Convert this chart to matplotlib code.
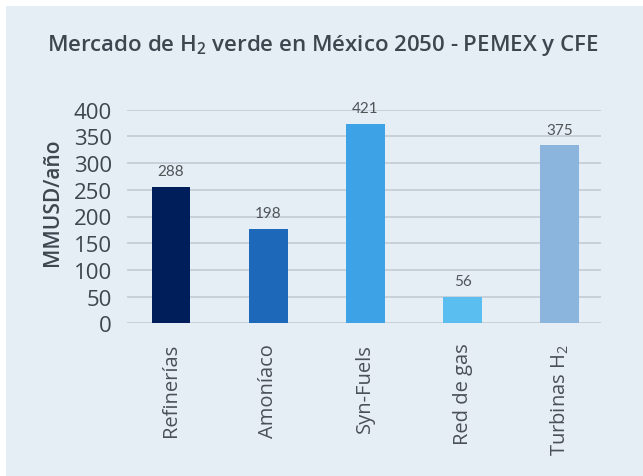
import matplotlib
matplotlib.use("Agg")
import matplotlib.pyplot as plt
from matplotlib.patches import Rectangle

plt.rcParams['font.family'] = ['Open Sans', 'DejaVu Sans']
plt.rcParams['mathtext.fontset'] = 'custom'
plt.rcParams['mathtext.rm'] = 'Open Sans'
plt.rcParams['mathtext.default'] = 'regular'

# data
categories = ['Refinerías', 'Amoníaco', 'Syn-Fuels', 'Red de gas', 'Turbinas H$_2$']
bar_values = [256, 176, 373, 49, 333]          # drawn bar heights
value_labels = ['288', '198', '421', '56', '375']  # printed labels
colors = ['#001E5A', '#1D68B8', '#3DA2E6', '#5ABEF0', '#8BB5DD']
yticks = [0, 50, 100, 150, 200, 250, 300, 350, 400]

bg = '#E5EDF5'
txt = '#3E4650'

fig = plt.figure(figsize=(6.43, 4.77), dpi=100, facecolor='white')
fig.patches.append(Rectangle((6 / 643, 0), 1, 1 - 7 / 477, transform=fig.transFigure,
                             facecolor=bg, edgecolor='none', zorder=-10))

ax = fig.add_axes([127 / 643, 1 - 324.3 / 477, 474 / 643, 213.6 / 477])
ax.set_facecolor(bg)
ax.patch.set_alpha(0)

x = range(len(categories))
ax.bar(x, bar_values, width=0.40, color=colors, zorder=3)
for i, (v, lab) in enumerate(zip(bar_values, value_labels)):
    ax.annotate(lab, (i, v), xytext=(0, 11.5), textcoords='offset points',
                ha='center', va='center', fontsize=11, color='#505558',
                family=['Lato', 'DejaVu Sans'])

ax.set_ylim(0, 400)
ax.set_xlim(-0.453, 4.424)
ax.set_yticks(yticks)
ax.yaxis.grid(True, color='#C5CDD6', linewidth=1.3, zorder=0)
ax.set_axisbelow(True)
for s in ax.spines.values():
    s.set_visible(False)

ax.tick_params(axis='y', length=0, pad=11, labelsize=16, labelcolor=txt)
ax.tick_params(axis='x', length=0, pad=14, labelsize=14.5, labelcolor='#4A5058')
ax.set_xticks(list(x))
ax.set_xticklabels(categories, rotation=90, va='top', ha='center')

fig.text(52 / 643, 1 - 202 / 477, 'MMUSD/año', rotation=90, ha='center', va='center',
         fontsize=15, fontweight='semibold', color=txt)

fig.text(323 / 643, 1 - 45 / 477, 'Mercado de H$_2$ verde en México 2050 - PEMEX y CFE',
         ha='center', va='center', fontsize=16, fontweight='semibold', color=txt)

fig.savefig('out.png', dpi=100, facecolor='white')
